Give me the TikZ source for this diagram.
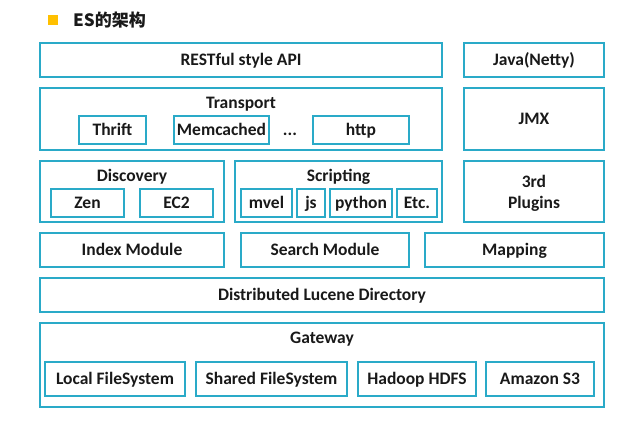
\documentclass[tikz,border=0pt]{standalone}
\usepackage{fontspec}
\setmainfont{Carlito}
\newfontfamily\cjk{Noto Sans CJK SC}
\definecolor{esblue}{RGB}{42,170,200}
\definecolor{esyellow}{RGB}{255,192,0}
\definecolor{txt}{RGB}{25,25,25}
\tikzset{
  lbl/.style={inner sep=0pt, text=txt, font=\bfseries\fontsize{17.5}{21}\selectfont},
  box/.style={lbl, draw=esblue, line width=1.6pt, rectangle, text height=12.5pt, text depth=1.5pt},
  ttl/.style={lbl, text height=12.5pt, text depth=1.5pt},
}
\begin{document}
\begin{tikzpicture}[x=1pt,y=-1pt]
\useasboundingbox (0,0) rectangle (630,424);
% title
\fill[esyellow] (48,15) rectangle (58,25);
\node[anchor=west, inner sep=0pt, text=txt, font=\cjk\bfseries\fontsize{17}{20}\selectfont] (title) at (73,20) {ES的架构};
% row 1
\node[box, minimum width=402, minimum height=34] (rest) at (241,60) {RESTful style API};
\node[box, minimum width=140, minimum height=34] (java) at (534,60) {Java(Netty)};
% row 2
\node[box, minimum width=402, minimum height=62] (transport) at (241,119) {};
\node[ttl] (transportT) at (241,103) {Transport};
\node[box, minimum width=67, minimum height=28] (thrift) at (112.5,130) {Thrift};
\node[box, minimum width=95, minimum height=28] (memc) at (221.5,130) {Memcached};
\node[ttl] (dots) at (290,130) {...};
\node[box, minimum width=96, minimum height=28] (http) at (361,130) {http};
\node[box, minimum width=140, minimum height=62] (jmx) at (534,119) {JMX};
% row 3
\node[box, minimum width=184, minimum height=61] (disc) at (132,191.5) {};
\node[ttl] (discT) at (132,176) {Discovery};
\node[box, minimum width=73, minimum height=28] (zen) at (87.5,203) {Zen};
\node[box, minimum width=73, minimum height=28] (ec2) at (176.5,203) {EC2};
\node[box, minimum width=207, minimum height=61] (script) at (338.5,191.5) {};
\node[ttl] (scriptT) at (338.5,176) {Scripting};
\node[box, minimum width=51, minimum height=28] (mvel) at (266.5,203) {mvel};
\node[box, minimum width=28, minimum height=28] (js) at (311,203) {js};
\node[box, minimum width=62, minimum height=28] (python) at (361,203) {python};
\node[box, minimum width=40, minimum height=28] (etc) at (417,203) {Etc.};
\node[draw=esblue, line width=1.6pt, minimum width=140, minimum height=61] (plugins) at (534,191.5) {};
\node[lbl, align=center] (pluginsT) at (534,193) {3rd\\Plugins};
% row 4
\node[box, minimum width=184, minimum height=34] (index) at (132,250) {Index Module};
\node[box, minimum width=168, minimum height=34] (search) at (325,250) {Search Module};
\node[box, minimum width=179, minimum height=34] (mapping) at (514.5,250) {Mapping};
% row 5
\node[box, minimum width=564, minimum height=34] (lucene) at (322,295) {Distributed Lucene Directory};
% row 6
\node[box, minimum width=564, minimum height=84] (gateway) at (322,365) {};
\node[ttl] (gatewayT) at (322,338) {Gateway};
\node[box, minimum width=140, minimum height=34] (local) at (115,379) {Local FileSystem};
\node[box, minimum width=151, minimum height=34] (shared) at (271.5,379) {Shared FileSystem};
\node[box, minimum width=118, minimum height=34] (hadoop) at (417,379) {Hadoop HDFS};
\node[box, minimum width=108, minimum height=34] (amazon) at (540,379) {Amazon S3};
\end{tikzpicture}
\end{document}
